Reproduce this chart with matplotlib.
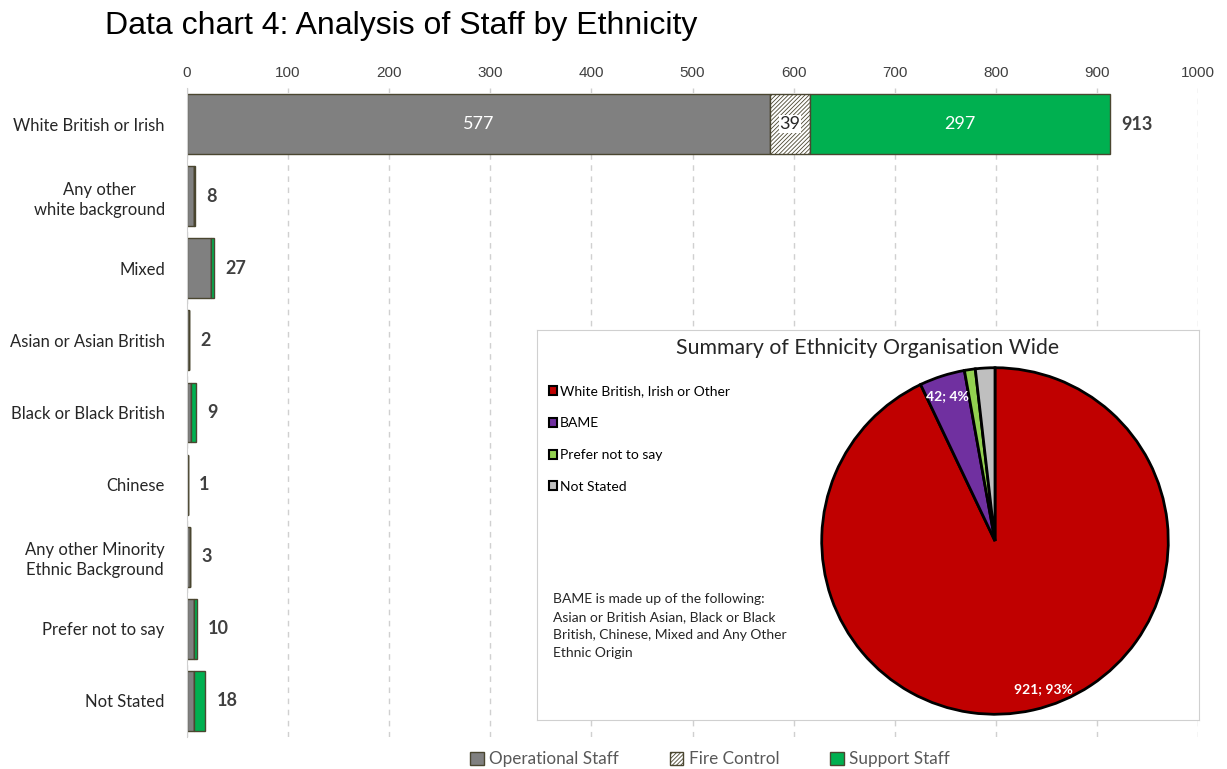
import numpy as np
import matplotlib
matplotlib.use("Agg")
import matplotlib.pyplot as plt
from matplotlib.patches import Patch

plt.rcParams['font.family'] = ['Lato', 'DejaVu Sans']
plt.rcParams['hatch.color'] = '#7f7f7f'
plt.rcParams['hatch.linewidth'] = 0.6

# bar chart data
categories = ["White British or Irish", "Any other\nwhite background", "Mixed",
              "Asian or Asian British", "Black or Black British", "Chinese",
              "Any other Minority\nEthnic Background", "Prefer not to say", "Not Stated"]
operational = [577, 7, 24, 2, 4, 1, 3, 7, 7]
fire_control = [39, 0, 0, 0, 0, 0, 0, 0, 0]
support = [297, 1, 3, 0, 5, 0, 0, 3, 11]
x_ticks = [0, 100, 200, 300, 400, 500, 600, 700, 800, 900, 1000]

# pie data
pie_labels = ["White British, Irish or Other", "BAME", "Prefer not to say", "Not Stated"]
pie_values = [921, 42, 10, 18]
pie_colors = ["#c00000", "#7030a0", "#92d050", "#bfbfbf"]

W, H = 1227, 769
fig = plt.figure(figsize=(W / 100, H / 100), dpi=100)


def px(x0, y0, x1, y1):
    return [x0 / W, 1 - y1 / H, (x1 - x0) / W, (y1 - y0) / H]


ax = fig.add_axes(px(187, 88, 1198, 737))
y = np.arange(len(categories))
op = np.array(operational)
fc = np.array(fire_control)
sp = np.array(support)
edge = '#4a4630'
h = 0.83
ax.barh(y, op, height=h, color='#808080', edgecolor=edge, linewidth=1, zorder=3)
ax.barh(y, fc, left=op, height=h, color='white', edgecolor=edge, hatch='////////',
        linewidth=1, zorder=3)
ax.barh(y, sp, left=op + fc, height=h, color='#00b050', edgecolor=edge, linewidth=1, zorder=3)

totals = op + fc + sp
for i, t in enumerate(totals):
    ax.text(t + 11, i, str(t), va='center', ha='left', fontsize=13,
            fontweight='bold', color='#404040', zorder=4)

# segment labels on the big bar
ax.text(op[0] / 2, 0, str(op[0]), ha='center', va='center', color='white', fontsize=13, zorder=4)
ax.text(op[0] + fc[0] / 2, 0, str(fc[0]), ha='center', va='center', color='#262626',
        fontsize=13, zorder=4,
        bbox=dict(facecolor='white', edgecolor='none', pad=0.5))
ax.text(op[0] + fc[0] + sp[0] / 2, 0, str(sp[0]), ha='center', va='center', color='white',
        fontsize=13, zorder=4)

ax.set_xlim(0, 1000)
ax.set_ylim(len(categories) - 0.5, -0.5)
ax.set_xticks(x_ticks)
ax.xaxis.tick_top()
ax.tick_params(axis='x', length=0, labelsize=11, colors='#404040', pad=6)
for lab in ax.get_xticklabels():
    lab.set_family(['Liberation Sans', 'DejaVu Sans'])
ax.set_yticks(y)
ax.set_yticklabels(categories, fontsize=12, color='#262626', linespacing=1.3,
                   multialignment='center')
ax.tick_params(axis='y', length=0, pad=16)
ax.grid(axis='x', color='#d0d0d0', linestyle=(0, (4, 4)), linewidth=1, zorder=0)
for s in ['top', 'right', 'bottom']:
    ax.spines[s].set_visible(False)
ax.spines['left'].set_color('#d0d0d0')
ax.spines['left'].set_zorder(5)

fig.text(105 / W, 1 - 26 / H, "Data chart 4: Analysis of Staff by Ethnicity",
         family=['Liberation Sans', 'DejaVu Sans'], fontsize=23, va='center', ha='left')

# bottom legend
handles = [Patch(facecolor='#808080', edgecolor=edge, label='Operational Staff'),
           Patch(facecolor='white', edgecolor=edge, hatch='////////', label='Fire Control'),
           Patch(facecolor='#00b050', edgecolor=edge, label='Support Staff')]
fig.legend(handles=handles, loc='center', bbox_to_anchor=(710 / W, 1 - 759 / H), ncol=3,
           frameon=False, fontsize=12.3, handlelength=0.8, handleheight=0.8,
           handletextpad=0.3, columnspacing=3.0, labelcolor='#595959')

# inset box
box = fig.add_axes(px(537, 330, 1199, 720))
box.set_xticks([])
box.set_yticks([])
for s in box.spines.values():
    s.set_color('#d0d0d0')
box.set_zorder(6)
box.text(0.5, 1 - 18 / 390, "Summary of Ethnicity Organisation Wide", transform=box.transAxes,
         ha='center', va='center', fontsize=15.3, color='#262626')
box.text(16 / 662, 1 - 263 / 390,
         "BAME is made up of the following:\nAsian or British Asian, Black or Black\n"
         "British, Chinese, Mixed and Any Other\nEthnic Origin",
         transform=box.transAxes, ha='left', va='top', fontsize=10, color='#262626',
         linespacing=1.6)
leg_handles = [Patch(facecolor=c, edgecolor='black', linewidth=1.5, label=l)
               for c, l in zip(pie_colors, pie_labels)]
box.legend(handles=leg_handles, loc='upper left', bbox_to_anchor=(6 / 662, 1 - 50 / 390),
           frameon=False, fontsize=10, handlelength=0.6, handleheight=0.6,
           handletextpad=0.2, labelspacing=1.42, borderaxespad=0)

pax = fig.add_axes(px(820, 366, 1170, 716))
pax.set_zorder(7)
wedges, _ = pax.pie(pie_values, colors=pie_colors, startangle=90, counterclock=False,
                    wedgeprops=dict(edgecolor='black', linewidth=2))
pax.set_xlim(-1.01, 1.01)
pax.set_ylim(-1.01, 1.01)
total = sum(pie_values)
# label positions (radius fraction, angle in degrees)
label_pos = {0: (0.9, -72), 1: (0.88, 108)}
for i, (r, a) in label_pos.items():
    ang = np.deg2rad(a)
    pct = round(pie_values[i] / total * 100)
    pax.text(r * np.cos(ang), r * np.sin(ang), f"{pie_values[i]}; {pct}%",
             ha='center', va='center', color='white', fontsize=10, fontweight='bold')
pax.set_aspect('equal')

fig.savefig("out.png", dpi=100)
